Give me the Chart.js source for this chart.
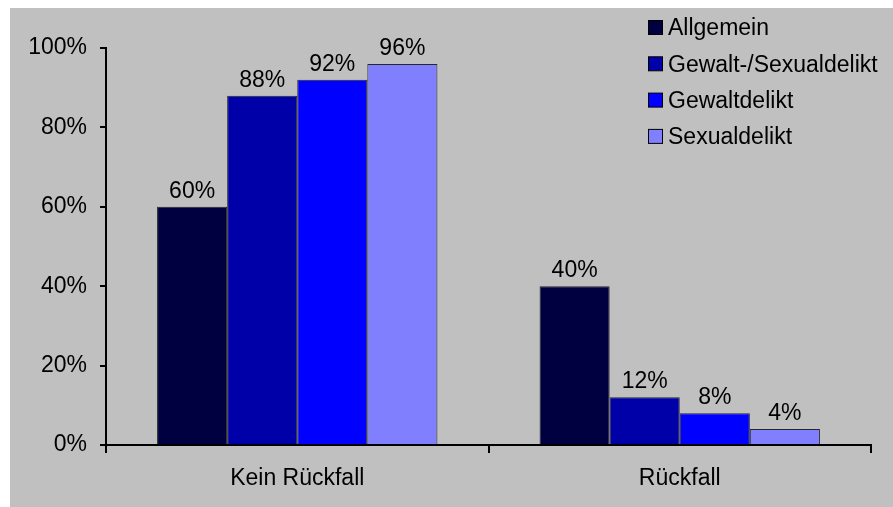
<!DOCTYPE html>
<html>
<head>
<meta charset="utf-8">
<script src="https://cdn.jsdelivr.net/npm/chart.js@4"></script>
<style>
  html, body { margin: 0; padding: 0; background: #ffffff; }
  #wrap { position: absolute; left: 10px; top: 8px; width: 883px; height: 499px; background: #c0c0c0; }
  canvas { display: block; }
</style>
</head>
<body>
<div id="wrap"><canvas id="chart" width="883" height="499"></canvas></div>
<script>
// Rückfallquoten nach Deliktgruppe
const categories = ['Kein Rückfall', 'Rückfall'];
const seriesNames = ['Allgemein', 'Gewalt-/Sexualdelikt', 'Gewaltdelikt', 'Sexualdelikt'];
const allgemein = [60, 40];
const gewaltSexual = [88, 12];
const gewalt = [92, 8];
const sexual = [96, 4];
const yTicks = [0, 20, 40, 60, 80, 100];

const seriesValues = [allgemein, gewaltSexual, gewalt, sexual];
const seriesColors = ['#000040', '#0000a8', '#0000ff', '#8080ff'];
const FONT = "'Liberation Sans', Arial, sans-serif";
const FONT_SIZE = 23;

// Prozentwerte über jedem Balken
const valueLabels = {
  id: 'valueLabels',
  afterDatasetsDraw(chart) {
    const ctx = chart.ctx;
    ctx.save();
    ctx.font = FONT_SIZE + 'px ' + FONT;
    ctx.fillStyle = '#000';
    ctx.textAlign = 'center';
    ctx.textBaseline = 'alphabetic';
    chart.data.datasets.forEach((ds, i) => {
      chart.getDatasetMeta(i).data.forEach((bar, j) => {
        ctx.fillText(ds.data[j] + '%', bar.x, bar.y - 9);
      });
    });
    ctx.restore();
  }
};

// Legende oben rechts
const boxLegend = {
  id: 'boxLegend',
  afterDraw(chart) {
    const ctx = chart.ctx;
    ctx.save();
    ctx.font = FONT_SIZE + 'px ' + FONT;
    ctx.textBaseline = 'middle';
    ctx.textAlign = 'left';
    chart.data.datasets.forEach((ds, i) => {
      const cy = 20 + i * 36.3;
      ctx.fillStyle = ds.backgroundColor;
      ctx.fillRect(638.5, cy - 7.5, 14, 14);
      ctx.strokeStyle = '#000';
      ctx.lineWidth = 1;
      ctx.strokeRect(638.5, cy - 7.5, 14, 14);
      ctx.fillStyle = '#000';
      ctx.fillText(ds.label, 658, cy + 1);
    });
    ctx.restore();
  }
};

new Chart(document.getElementById('chart'), {
  type: 'bar',
  data: {
    labels: categories,
    datasets: seriesNames.map((name, i) => ({
      label: name,
      data: seriesValues[i],
      backgroundColor: seriesColors[i],
      borderColor: '#262626',
      borderWidth: 1,
      categoryPercentage: 0.733,
      barPercentage: 1.0
    }))
  },
  options: {
    responsive: false,
    animation: false,
    layout: { padding: { top: 40, right: 22, bottom: 0, left: 0 } },
    plugins: {
      legend: { display: false },
      tooltip: { enabled: false }
    },
    scales: {
      x: {
        grid: { drawOnChartArea: false, drawTicks: true, tickLength: 8, color: '#000', lineWidth: 2, offset: true },
        border: { color: '#000', width: 2 },
        ticks: { color: '#000', font: { family: FONT, size: FONT_SIZE }, padding: 12 },
        afterFit(s) { s.height = 62; }
      },
      y: {
        min: 0,
        max: 100,
        afterBuildTicks(s) { s.ticks = yTicks.map(v => ({ value: v })); },
        grid: { drawOnChartArea: false, drawTicks: true, tickLength: 6, color: '#000', lineWidth: 2 },
        border: { color: '#000', width: 2 },
        ticks: { color: '#000', font: { family: FONT, size: FONT_SIZE }, padding: 13, callback: v => v + '%' },
        afterFit(s) { s.width = 96; }
      }
    }
  },
  plugins: [valueLabels, boxLegend]
});
</script>
</body>
</html>
